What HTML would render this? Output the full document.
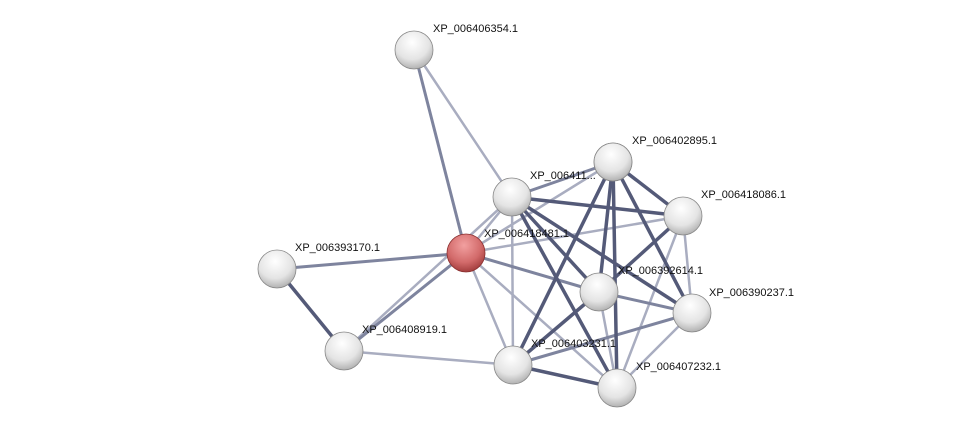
<!DOCTYPE html>
<html><head><style>
html,body{margin:0;padding:0;background:#fff;}
svg{display:block;}
text{font-family:"Liberation Sans",sans-serif;font-size:11px;fill:#111;}
</style></head><body>
<svg width="976" height="434" viewBox="0 0 976 434" xmlns="http://www.w3.org/2000/svg">
<defs>
<radialGradient id="g" cx="0.45" cy="0.3" r="0.75">
<stop offset="0" stop-color="#ffffff"/><stop offset="0.6" stop-color="#e4e4e4"/><stop offset="1" stop-color="#a8a8a8"/>
</radialGradient>
<radialGradient id="r" cx="0.45" cy="0.3" r="0.75">
<stop offset="0" stop-color="#f2a0a0"/><stop offset="0.6" stop-color="#d26a6a"/><stop offset="1" stop-color="#9a3535"/>
</radialGradient>
</defs>
<g stroke-linecap="round">
<g stroke="#a9adc0" stroke-width="2.5">
<line x1="414" y1="50" x2="512" y2="197"/>
<line x1="344" y1="351" x2="512" y2="197"/>
<line x1="344" y1="351" x2="513" y2="365"/>
<line x1="466" y1="253" x2="512" y2="197"/>
<line x1="466" y1="253" x2="613" y2="162"/>
<line x1="466" y1="253" x2="683" y2="216"/>
<line x1="466" y1="253" x2="513" y2="365"/>
<line x1="466" y1="253" x2="617" y2="388"/>
<line x1="512" y1="197" x2="513" y2="365"/>
<line x1="683" y1="216" x2="692" y2="313"/>
<line x1="683" y1="216" x2="617" y2="388"/>
<line x1="599" y1="292" x2="617" y2="388"/>
<line x1="692" y1="313" x2="617" y2="388"/>
</g>
<g stroke="#7e849e" stroke-width="3">
<line x1="414" y1="50" x2="466" y2="253"/>
<line x1="277" y1="269" x2="466" y2="253"/>
<line x1="344" y1="351" x2="466" y2="253"/>
<line x1="466" y1="253" x2="599" y2="292"/>
<line x1="512" y1="197" x2="613" y2="162"/>
<line x1="599" y1="292" x2="692" y2="313"/>
<line x1="692" y1="313" x2="513" y2="365"/>
</g>
<g stroke="#545a78" stroke-width="3.5">
<line x1="277" y1="269" x2="344" y2="351"/>
<line x1="512" y1="197" x2="683" y2="216"/>
<line x1="512" y1="197" x2="599" y2="292"/>
<line x1="512" y1="197" x2="692" y2="313"/>
<line x1="512" y1="197" x2="617" y2="388"/>
<line x1="613" y1="162" x2="683" y2="216"/>
<line x1="613" y1="162" x2="599" y2="292"/>
<line x1="613" y1="162" x2="617" y2="388"/>
<line x1="613" y1="162" x2="513" y2="365"/>
<line x1="613" y1="162" x2="692" y2="313"/>
<line x1="683" y1="216" x2="599" y2="292"/>
<line x1="599" y1="292" x2="513" y2="365"/>
<line x1="513" y1="365" x2="617" y2="388"/>
</g>
</g>
<g stroke="#888" stroke-width="0.8">
<circle cx="414" cy="50" r="19" fill="url(#g)"/>
<circle cx="613" cy="162" r="19" fill="url(#g)"/>
<circle cx="512" cy="197" r="19" fill="url(#g)"/>
<circle cx="683" cy="216" r="19" fill="url(#g)"/>
<circle cx="466" cy="253" r="19" fill="url(#r)" stroke="#8a3030"/>
<circle cx="277" cy="269" r="19" fill="url(#g)"/>
<circle cx="599" cy="292" r="19" fill="url(#g)"/>
<circle cx="692" cy="313" r="19" fill="url(#g)"/>
<circle cx="344" cy="351" r="19" fill="url(#g)"/>
<circle cx="513" cy="365" r="19" fill="url(#g)"/>
<circle cx="617" cy="388" r="19" fill="url(#g)"/>
</g>
<text x="433" y="32">XP_006406354.1</text>
<text x="530" y="179">XP_006411...</text>
<circle cx="613" cy="162" r="19" fill="url(#g)" stroke="#888" stroke-width="0.8"/>
<text x="632" y="144">XP_006402895.1</text>
<text x="701" y="198">XP_006418086.1</text>
<text x="484" y="237">XP_006418481.1</text>
<text x="295" y="251">XP_006393170.1</text>
<text x="618" y="274">XP_006392614.1</text>
<text x="709" y="296">XP_006390237.1</text>
<text x="362" y="333">XP_006408919.1</text>
<text x="531" y="347">XP_006403231.1</text>
<text x="636" y="370">XP_006407232.1</text>
</svg>
</body></html>
